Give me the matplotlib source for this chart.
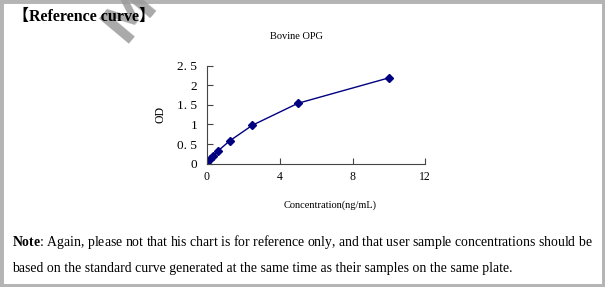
import matplotlib.pyplot as plt
from matplotlib.patches import Rectangle

plt.rcParams['mathtext.fontset'] = 'custom'
plt.rcParams['mathtext.rm'] = 'Liberation Serif'
plt.rcParams['mathtext.bf'] = 'Liberation Serif:bold'

# standard curve data
conc = [0, 0.156, 0.3125, 0.625, 1.25, 2.5, 5, 10]
od = [0.05, 0.12, 0.19, 0.33, 0.58, 0.98, 1.54, 2.19]

x_ticks = [0, 4, 8, 12]
y_ticks = [0, 0.5, 1, 1.5, 2, 2.5]
y_tick_labels = ['0', '0. 5', '1', '1. 5', '2', '2. 5']

serif = ['Liberation Serif', 'DejaVu Serif']

fig = plt.figure(figsize=(6.05, 2.87), dpi=100)

# gray frame around the whole panel
fig.patches.append(Rectangle((0, 0), 1, 1, transform=fig.transFigure,
                             fill=False, edgecolor='#b4b4b4', linewidth=5))

# watermark fragment
fig.text(0.235, 1.0, 'MY', fontsize=38, fontweight='bold', color='#9a9a9a',
         family=['DejaVu Sans'], rotation=50, ha='center', va='center', alpha=0.85)

fig.text(0.022, 0.94, '【Reference curve】', fontsize=11.5, fontweight='bold',
         family=['Liberation Serif', 'Noto Sans CJK SC'], va='center')

ax = fig.add_axes([0.342, 0.430, 0.361, 0.341])
ax.plot(conc, od, color='#000080', linewidth=1, marker='D', markersize=4.5,
        markerfacecolor='#000080', markeredgecolor='#000080')

ax.set_xlim(0, 12)
ax.set_ylim(0, 2.5)
ax.set_xticks(x_ticks)
ax.set_xticklabels([str(t) for t in x_ticks], family=serif, fontsize=8.5)
ax.set_yticks(y_ticks)
ax.set_yticklabels(y_tick_labels, family=serif, fontsize=9.5)
ax.tick_params(direction='in', length=4, width=0.8, color='#444444')
ax.tick_params(axis='x', pad=5)
ax.tick_params(axis='y', pad=7)
ax.spines['top'].set_visible(False)
ax.spines['right'].set_visible(False)
for s in ['left', 'bottom']:
    ax.spines[s].set_color('#444444')
    ax.spines[s].set_linewidth(0.8)

ax.set_title('Bovine OPG', family=serif, fontsize=7.5, pad=19, x=0.41)
ax.set_xlabel('Concentration(ng/mL)', family=serif, fontsize=7.5, labelpad=13, x=0.565)
ax.set_ylabel('OD', family=serif, fontsize=8.5, labelpad=8)

fig.text(0.020, 0.157,
         r'$\mathbf{Note}$' + ': Again, please not that his chart is for reference only, '
         'and that user sample concentrations should be',
         family=serif, fontsize=9.9, va='center')
fig.text(0.020, 0.066,
         'based on the standard curve generated at the same time as their samples on the same plate.',
         family=serif, fontsize=9.9, va='center')

fig.savefig('out.png', dpi=100)
